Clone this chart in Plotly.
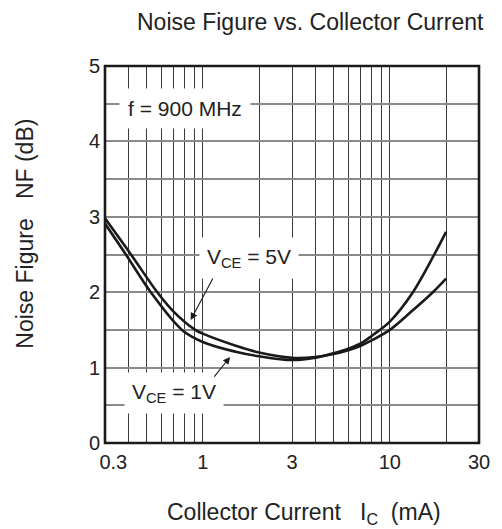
import math
import plotly.graph_objects as go

# ---- data ----
ic_5v = [0.3, 0.413, 0.571, 0.7, 0.912, 1.0, 1.5, 2, 3, 4, 5, 6, 7, 8, 10, 13, 17, 20]
nf_5v = [2.98, 2.5, 2.0, 1.74, 1.5, 1.45, 1.29, 1.20, 1.13, 1.14, 1.18, 1.23, 1.29, 1.36, 1.50, 1.74, 2.0, 2.18]

ic_1v = [0.3, 0.388, 0.527, 0.774, 1.0, 1.5, 2, 3, 4, 5, 6, 7, 8, 10, 13.3, 17.3, 20]
nf_1v = [2.91, 2.5, 2.0, 1.5, 1.34, 1.21, 1.15, 1.10, 1.13, 1.19, 1.25, 1.32, 1.42, 1.61, 2.0, 2.5, 2.80]

x_grid = [0.3, 0.4, 0.5, 0.6, 0.7, 0.8, 0.9, 1, 2, 3, 4, 5, 6, 7, 8, 9, 10, 20, 30]
x_labels = {0.3: "\u00a0\u00a0\u00a00.3", 1: "1", 3: "3", 10: "10", 30: "30"}
y_grid = [0, 0.5, 1, 1.5, 2, 2.5, 3, 3.5, 4, 4.5, 5]
y_labels = {0: "0", 1: "1", 2: "2", 3: "3", 4: "4", 5: "5"}

FONT = "Liberation Sans, Arial, sans-serif"
TXT = "#222222"
W, H = 502, 529
L, R, T, B = 105, 20, 66, 86
PW, PH = W - L - R, H - T - B


def px_x(px):
    return (px - L) / PW


def px_y(py):
    return (H - B - py) / PH


fig = go.Figure()
fig.add_trace(go.Scatter(x=ic_5v, y=nf_5v, mode="lines", name="VCE = 5V",
                         line=dict(color="#1a1a1a", width=2.6, shape="spline")))
fig.add_trace(go.Scatter(x=ic_1v, y=nf_1v, mode="lines", name="VCE = 1V",
                         line=dict(color="#1a1a1a", width=2.6, shape="spline")))

fig.update_layout(
    width=W, height=H,
    margin=dict(l=L, r=R, t=T, b=B),
    paper_bgcolor="white", plot_bgcolor="white",
    showlegend=False,
    font=dict(family=FONT, color=TXT),
)
fig.update_xaxes(
    type="log", range=[math.log10(0.3), math.log10(30)],
    tickvals=x_grid, ticktext=[x_labels.get(v, "") for v in x_grid],
    showgrid=True, gridcolor="#3a3a3a", gridwidth=1,
    ticks="", tickfont=dict(size=20, family=FONT, color=TXT),
    ticklabelstandoff=5, zeroline=False, showline=False,
)
fig.update_yaxes(
    range=[0, 5],
    tickvals=y_grid, ticktext=[y_labels.get(v, "") for v in y_grid],
    showgrid=True, gridcolor="#8a8a8a", gridwidth=1.6,
    ticks="", tickfont=dict(size=20, family=FONT, color=TXT),
    ticklabelstandoff=4, zeroline=False, showline=False,
)

# plot frame
fig.add_shape(type="rect", xref="paper", yref="paper", x0=0, y0=0, x1=1, y1=1,
              line=dict(color="#1a1a1a", width=2.6), layer="above")

# title and axis titles
fig.add_annotation(text="Noise Figure vs. Collector Current", xref="paper", yref="paper",
                   x=px_x(312), y=px_y(22), showarrow=False,
                   xanchor="center", yanchor="middle",
                   font=dict(size=23, family=FONT, color=TXT))
fig.add_annotation(text="Collector Current\u00a0\u00a0\u00a0I<sub>C</sub>\u00a0\u00a0(mA)",
                   xref="paper", yref="paper", x=px_x(306), y=px_y(513), showarrow=False,
                   xanchor="center", yanchor="middle",
                   font=dict(size=23, family=FONT, color=TXT))
fig.add_annotation(text="Noise Figure\u00a0\u00a0\u00a0NF (dB)", xref="paper", yref="paper",
                   x=px_x(24), y=px_y(234), showarrow=False, textangle=-90,
                   xanchor="center", yanchor="middle",
                   font=dict(size=23, family=FONT, color=TXT))

# boxed labels
box_font = dict(size=21, family=FONT, color=TXT)
fig.add_annotation(text="f = 900 MHz", xref="paper", yref="paper",
                   x=px_x(186), y=px_y(109), showarrow=False,
                   xanchor="center", yanchor="middle",
                   bgcolor="white", borderpad=8, font=box_font)
fig.add_annotation(text="V<sub>CE</sub> = 5V", xref="paper", yref="paper",
                   x=px_x(250), y=px_y(258), showarrow=False,
                   xanchor="center", yanchor="middle",
                   bgcolor="white", borderpad=7, font=box_font)
fig.add_annotation(text="V<sub>CE</sub> = 1V", xref="paper", yref="paper",
                   x=px_x(175), y=px_y(393), showarrow=False,
                   xanchor="center", yanchor="middle",
                   bgcolor="white", borderpad=7, font=box_font)

# pointer arrows (tip on curve, tail offset in pixels)
fig.add_annotation(text="", x=math.log10(0.861), y=1.63, xref="x", yref="y",
                   ax=23, ay=-43, showarrow=True, arrowhead=2, arrowsize=1.3,
                   arrowwidth=1.1, arrowcolor="#1a1a1a")
fig.add_annotation(text="", x=math.log10(1.40), y=1.14, xref="x", yref="y",
                   ax=-17, ay=21, showarrow=True, arrowhead=2, arrowsize=1.3,
                   arrowwidth=1.1, arrowcolor="#1a1a1a")

fig.write_html("out.html",
               config={"displayModeBar": False},
               post_script="document.body.style.margin='0';document.body.style.padding='0';")
